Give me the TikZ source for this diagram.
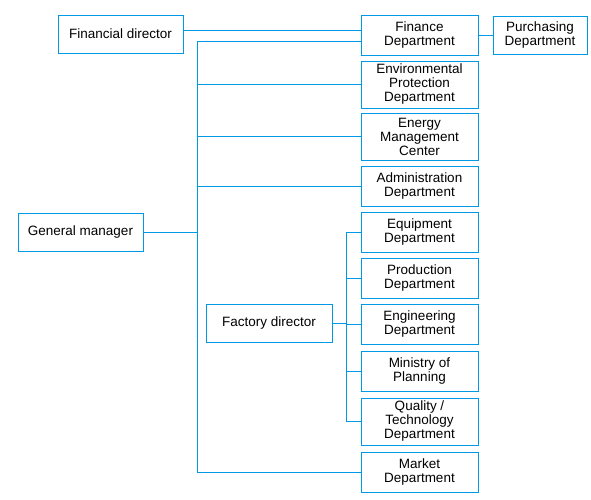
\documentclass[tikz,border=0pt]{standalone}
\usepackage{fontspec}
\setmainfont{Liberation Sans}
\usepackage{tikz}
\usetikzlibrary{calc,positioning}

\definecolor{orgblue}{RGB}{0,153,229}

\begin{document}
\begin{tikzpicture}[x=1pt,y=-1pt]

	\tikzstyle{box} = [rectangle, draw=orgblue, line width=0.9pt, align=center,
		inner sep=0pt, minimum width=117pt, minimum height=40pt,
		font=\fontsize{13.5}{14}\selectfont]
	\tikzstyle{tallbox} = [box, minimum height=47pt]
	\tikzstyle{headbox} = [box, minimum width=125pt, minimum height=38pt]
	\tikzstyle{line} = [draw=orgblue, line width=0.9pt]

	\useasboundingbox (0,0) rectangle (591,500);

	% managers
	\node[headbox] (findir) at (120.5,34) {Financial director};
	\node[headbox] (gm) at (80.5,232) {General manager};
	\node[headbox, minimum width=126pt] (factory) at (269,323) {Factory director};

	% departments
	\node[box] (finance) at (419.5,35) {Finance\\Department};
	\node[box, minimum width=94pt, minimum height=38pt] (purchasing) at (540,35) {Purchasing\\Department};
	\node[tallbox] (env) at (419.5,84.5) {Environmental\\Protection\\Department};
	\node[tallbox] (energy) at (419.5,136.5) {Energy\\Management\\Center};
	\node[box] (admin) at (419.5,186) {Administration\\Department};
	\node[box] (equip) at (419.5,232) {Equipment\\Department};
	\node[box] (prod) at (419.5,278) {Production\\Department};
	\node[box] (eng) at (419.5,324) {Engineering\\Department};
	\node[box] (plan) at (419.5,371) {Ministry of\\Planning};
	\node[tallbox] (quality) at (419.5,421.5) {Quality /\\Technology\\Department};
	\node[box] (market) at (419.5,472) {Market\\Department};

	\coordinate (bus) at (197,0);
	\coordinate (fbus) at (346,0);

	% connectors
	\draw[line] ([yshift=4pt]findir.east) -- ([yshift=4pt]findir.east -| finance.west);
	\draw[line] (finance.east) -- (purchasing.west);
	\draw[line] ([yshift=-6pt]finance.west) -| (market.west -| bus) -- (market.west);
	\draw[line] (gm.east) -- (gm.east -| bus);
	\foreach \dep in {env,energy,admin}
		\draw[line] (\dep.west) -- (\dep.west -| bus);

	\draw[line] (factory.east) -- (factory.east -| fbus);
	\draw[line] (equip.west) -| (quality.west -| fbus) -- (quality.west);
	\foreach \dep in {prod,eng,plan}
		\draw[line] (\dep.west) -- (\dep.west -| fbus);

\end{tikzpicture}
\end{document}
